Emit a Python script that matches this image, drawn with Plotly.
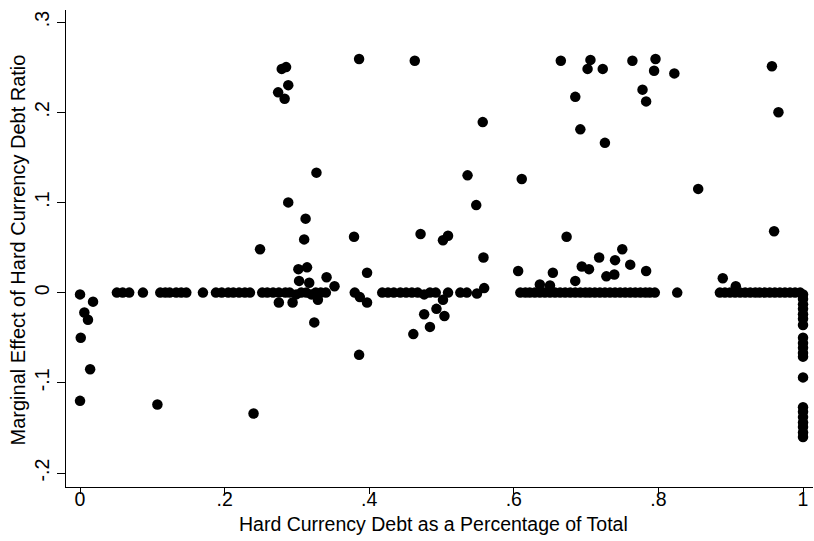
import plotly.graph_objects as go

# Share of hard-currency debt (x) and marginal effect (y) for observations off the zero line
off_zero_x = [
    0.000, 0.018, 0.006, 0.011, 0.001, 0.014, 0.000, 0.107, 0.240,
    0.279, 0.285, 0.288, 0.274, 0.283, 0.386, 0.463, 0.557, 0.327, 0.536,
    0.611, 0.288, 0.548, 0.312, 0.471, 0.509, 0.502, 0.379, 0.310, 0.249,
    0.558, 0.302, 0.314, 0.397, 0.606, 0.341, 0.303, 0.317, 0.352, 0.636,
    0.650, 0.654, 0.559, 0.685,
    0.275, 0.294, 0.329, 0.324, 0.397, 0.387, 0.476, 0.493, 0.504, 0.484,
    0.461, 0.502, 0.386,
    0.665, 0.706, 0.702, 0.723, 0.764, 0.796, 0.794, 0.822, 0.957, 0.685,
    0.778, 0.783, 0.966, 0.692, 0.726, 0.855, 0.960, 0.673, 0.750, 0.718,
    0.740, 0.694, 0.704, 0.761, 0.783, 0.728, 0.739, 0.889, 0.907,
]
off_zero_y = [
    -0.002, -0.010, -0.022, -0.030, -0.050, -0.085, -0.120, -0.124, -0.134,
    0.248, 0.250, 0.230, 0.222, 0.215, 0.259, 0.257, 0.189, 0.133, 0.130,
    0.126, 0.100, 0.097, 0.082, 0.065, 0.063, 0.058, 0.062, 0.059, 0.048,
    0.039, 0.026, 0.028, 0.022, 0.024, 0.017, 0.013, 0.011, 0.007, 0.009,
    0.008, 0.022, 0.005, 0.013,
    -0.011, -0.011, -0.008, -0.033, -0.011, -0.005, -0.024, -0.018, -0.026, -0.038,
    -0.046, -0.008, -0.069,
    0.257, 0.258, 0.248, 0.248, 0.257, 0.259, 0.246, 0.243, 0.251, 0.217,
    0.225, 0.212, 0.200, 0.181, 0.166, 0.115, 0.068, 0.062, 0.048, 0.039,
    0.036, 0.029, 0.026, 0.031, 0.024, 0.018, 0.020, 0.016, 0.007,
]

# Observations whose marginal effect is essentially zero
zero_line_x = [
    0.051, 0.059, 0.068, 0.087, 0.111, 0.118, 0.124, 0.133, 0.140, 0.147,
    0.170, 0.188, 0.196, 0.205, 0.212, 0.220, 0.228, 0.235,
    0.252, 0.259, 0.267, 0.275, 0.284, 0.290, 0.299, 0.306, 0.313, 0.320,
    0.326, 0.333, 0.340,
    0.380, 0.418, 0.426, 0.434, 0.443, 0.451, 0.459, 0.467, 0.476, 0.484,
    0.492, 0.509, 0.526, 0.535, 0.549,
    0.609, 0.616, 0.622, 0.629, 0.636, 0.643, 0.650, 0.657, 0.664, 0.671,
    0.678, 0.685, 0.692, 0.699, 0.705, 0.712, 0.719, 0.726, 0.733, 0.740,
    0.747, 0.754, 0.761, 0.768, 0.775, 0.782, 0.788, 0.795,
    0.826,
    0.885, 0.892, 0.899, 0.906, 0.913, 0.920, 0.927, 0.934, 0.940, 0.947,
    0.954, 0.961, 0.968, 0.975, 0.982, 0.989, 0.996,
]
zero_line_y = [
    0.000, 0.000, 0.000, 0.000, 0.000, 0.000, 0.000, 0.000, 0.000, 0.000,
    0.000, 0.000, 0.000, 0.000, 0.000, 0.000, 0.000, 0.000,
    0.000, 0.000, 0.000, 0.000, 0.000, 0.000, -0.002, 0.000, 0.000, -0.002,
    0.000, 0.000, 0.000,
    0.000, 0.000, 0.000, 0.000, 0.000, 0.000, 0.000, 0.000, -0.002, 0.000,
    0.000, 0.000, 0.000, 0.000, -0.001,
    0.000, 0.000, 0.000, 0.000, 0.000, 0.000, 0.000, 0.000, 0.000, 0.000,
    0.000, 0.000, 0.000, 0.000, 0.000, 0.000, 0.000, 0.000, 0.000, 0.000,
    0.000, 0.000, 0.000, 0.000, 0.000, 0.000, 0.000, 0.000,
    0.000,
    0.000, 0.000, 0.000, 0.000, 0.000, 0.000, 0.000, 0.000, 0.000, 0.000,
    0.000, 0.000, 0.000, 0.000, 0.000, 0.000, 0.000,
]

# Observations with all debt in hard currency
all_hard_x = [
    1.0, 1.0, 1.0, 1.0, 1.0, 1.0, 1.0, 1.0, 1.0, 1.0,
    1.0, 1.0, 1.0, 1.0, 1.0, 1.0, 1.0, 1.0, 1.0, 1.0,
]
all_hard_y = [
    -0.002, -0.007, -0.013, -0.018, -0.024, -0.029, -0.036, -0.050, -0.056, -0.061,
    -0.067, -0.071, -0.094, -0.127, -0.132, -0.138, -0.144, -0.149, -0.155, -0.160,
]

x_ticks = [0, 0.2, 0.4, 0.6, 0.8, 1]
x_tick_labels = ["0", ".2", ".4", ".6", ".8", "1"]
y_ticks = [-0.2, -0.1, 0, 0.1, 0.2, 0.3]
y_tick_labels = ["-.2", "-.1", "0", ".1", ".2", ".3"]

x_title = "Hard Currency Debt as a Percentage of Total"
y_title = "Marginal Effect of Hard Currency Debt Ratio"

x_all = off_zero_x + zero_line_x + all_hard_x
y_all = off_zero_y + zero_line_y + all_hard_y

FONT = "Liberation Sans"

fig = go.Figure(
    go.Scatter(
        x=x_all,
        y=y_all,
        mode="markers",
        marker=dict(size=10.5, color="black", line=dict(width=0)),
        cliponaxis=False,
        hoverinfo="x+y",
    )
)

fig.update_layout(
    width=814,
    height=541,
    margin=dict(l=66, r=1, t=10, b=54),
    plot_bgcolor="white",
    paper_bgcolor="white",
    showlegend=False,
    font=dict(family=FONT, size=19.5, color="black"),
)

axis_style = dict(
    ticks="outside",
    tickwidth=1.3,
    tickcolor="black",
    showline=True,
    linecolor="black",
    linewidth=1.3,
    showgrid=False,
    zeroline=False,
)

fig.update_xaxes(
    range=[-0.0194, 1.0138],
    tickvals=x_ticks,
    ticktext=x_tick_labels,
    ticklen=6,
    ticklabelstandoff=-12,
    **axis_style,
)

fig.update_yaxes(
    range=[-0.2155, 0.3133],
    tickvals=y_ticks,
    ticktext=y_tick_labels,
    tickangle=-90,
    ticklen=8,
    **axis_style,
)

# Axis titles placed as paper-anchored text
fig.add_annotation(
    text=x_title,
    xref="paper", yref="paper",
    x=0.4913, y=-0.0785,
    xanchor="center", yanchor="middle",
    showarrow=False,
    font=dict(family=FONT, size=19.5, color="black"),
)
fig.add_annotation(
    text=y_title,
    xref="paper", yref="paper",
    x=-0.0643, y=0.4979,
    xanchor="center", yanchor="middle",
    textangle=-90,
    showarrow=False,
    font=dict(family=FONT, size=20, color="black"),
)

fig.write_html("out.html")
